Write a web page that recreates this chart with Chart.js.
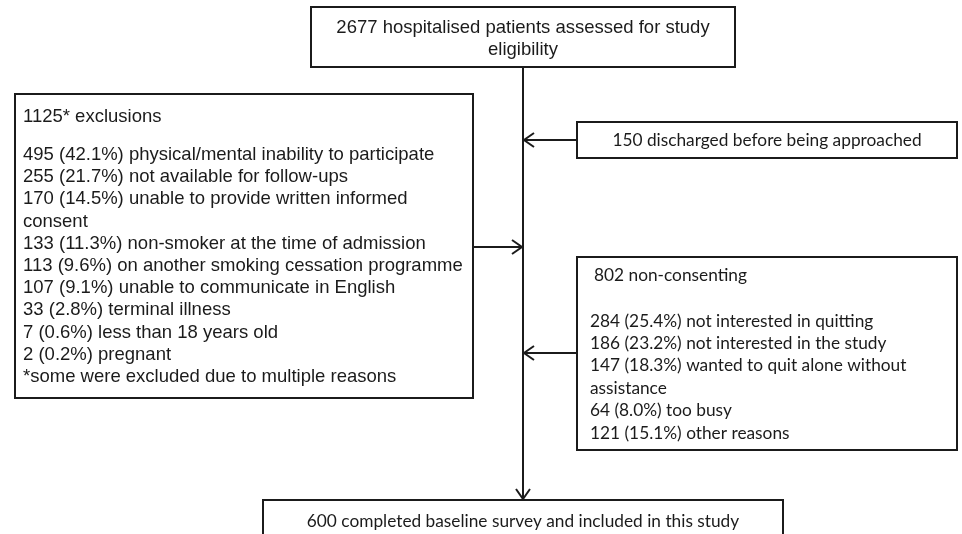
<!DOCTYPE html>
<html>
<head>
<meta charset="utf-8">
<script src="https://cdn.jsdelivr.net/npm/chart.js@4.4.1/dist/chart.umd.min.js"></script>
<style>
  html, body { margin: 0; padding: 0; background: #fff; }
  #wrap { width: 962px; height: 534px; }
</style>
</head>
<body>
<div id="wrap"><canvas id="flow" width="962" height="534"></canvas></div>
<script>
// study flow numbers
const assessed = 2677
const discharged = 150
const included = 600

const exclusionTotal = 1125
const exclusionReasons = [
  'physical/mental inability to participate',
  'not available for follow-ups',
  'unable to provide written informed consent',
  'non-smoker at the time of admission',
  'on another smoking cessation programme',
  'unable to communicate in English',
  'terminal illness',
  'less than 18 years old',
  'pregnant',
]
const exclusionCounts = [495, 255, 170, 133, 113, 107, 33, 7, 2]
const exclusionPcts   = [42.1, 21.7, 14.5, 11.3, 9.6, 9.1, 2.8, 0.6, 0.2]
const exclusionNote = '*some were excluded due to multiple reasons'

const nonConsentTotal = 802
const nonConsentReasons = [
  'not interested in quitting',
  'not interested in the study',
  'wanted to quit alone without assistance',
  'too busy',
  'other reasons',
]
const nonConsentCounts = [284, 186, 147, 64, 121]
const nonConsentPcts   = [25.4, 23.2, 18.3, 8.0, 15.1]

// layout in page units (x: 0..962, y: 0..534 top-down)
const ARIAL = '"Liberation Sans", Arial, sans-serif'
const CALIBRI = 'Lato, Carlito, Calibri, sans-serif'
const INK = '#1b1b1b'

const BOX = {
  top:   { x0: 311, y0: 7,   x1: 735, y1: 67 },
  excl:  { x0: 15,  y0: 94,  x1: 473, y1: 398 },
  disch: { x0: 577, y0: 122, x1: 957, y1: 158 },
  nonc:  { x0: 577, y0: 257, x1: 957, y1: 450 },
  final: { x0: 263, y0: 500, x1: 783, y1: 548 },
}
const SPINE_X = 523

const reasonLine = (n, p, r) => `${n} (${p.toFixed(1)}%) ${r}`

function wrap(ctx, text, maxW) {
  const words = text.split(' ')
  const out = []
  let cur = ''
  for (const w of words) {
    const t = cur ? cur + ' ' + w : w
    if (cur && ctx.measureText(t).width > maxW) { out.push(cur); cur = w }
    else cur = t
  }
  if (cur) out.push(cur)
  return out
}

// connectors drawn as line datasets
function seg(points) {
  return {
    data: points,
    showLine: true,
    borderColor: INK,
    borderWidth: 2,
    pointRadius: 0,
    tension: 0,
  }
}

const flowPlugin = {
  id: 'flow',
  afterDatasetsDraw(chart) {
    const { ctx, scales: { x, y } } = chart
    const px = v => x.getPixelForValue(v)
    const py = v => y.getPixelForValue(v)

    // arrowheads (open chevrons)
    function head(ax, ay, dir) {
      ctx.save()
      ctx.strokeStyle = INK
      ctx.lineWidth = 2
      ctx.beginPath()
      if (dir === 'left') {
        ctx.moveTo(px(ax + 11), py(ay - 7)); ctx.lineTo(px(ax + 1), py(ay)); ctx.lineTo(px(ax + 11), py(ay + 7))
      } else if (dir === 'right') {
        ctx.moveTo(px(ax - 11), py(ay - 7)); ctx.lineTo(px(ax - 1), py(ay)); ctx.lineTo(px(ax - 11), py(ay + 7))
      } else {
        ctx.moveTo(px(ax - 7), py(ay - 11)); ctx.lineTo(px(ax), py(ay - 1)); ctx.lineTo(px(ax + 7), py(ay - 11))
      }
      ctx.stroke()
      ctx.restore()
    }
    head(SPINE_X, 140, 'left')
    head(SPINE_X, 247, 'right')
    head(SPINE_X, 353, 'left')
    head(SPINE_X, BOX.final.y0, 'down')

    function box(b) {
      ctx.save()
      ctx.fillStyle = '#fff'
      ctx.strokeStyle = INK
      ctx.lineWidth = 2
      ctx.fillRect(px(b.x0), py(b.y0), px(b.x1) - px(b.x0), py(b.y1) - py(b.y0))
      ctx.strokeRect(px(b.x0), py(b.y0), px(b.x1) - px(b.x0), py(b.y1) - py(b.y0))
      ctx.restore()
    }
    Object.values(BOX).forEach(box)

    function text(str, tx, ty, font, align) {
      ctx.save()
      ctx.fillStyle = INK
      ctx.font = font
      ctx.textAlign = align || 'left'
      ctx.textBaseline = 'middle'
      ctx.fillText(str, px(tx), py(ty))
      ctx.restore()
    }

    // top box
    const arial = `18.5px ${ARIAL}`
    text(`${assessed} hospitalised patients assessed for study`, SPINE_X, 28, arial, 'center')
    text('eligibility', SPINE_X, 50, arial, 'center')

    // exclusions
    text(`${exclusionTotal}* exclusions`, 23, 117, arial)
    ctx.font = arial
    let yy = 155
    const lh = 22.2
    exclusionReasons.forEach((r, i) => {
      const lines = wrap(ctx, reasonLine(exclusionCounts[i], exclusionPcts[i], r), BOX.excl.x1 - 23 - 2)
      for (const l of lines) { text(l, 23, yy, arial); yy += lh }
    })
    text(exclusionNote, 23, yy, arial)

    // discharged
    const cal = `17.3px ${CALIBRI}`
    text(`${discharged} discharged before being approached`, (BOX.disch.x0 + BOX.disch.x1) / 2, 140, cal, 'center')

    // non-consenting
    text(`${nonConsentTotal} non-consenting`, 594, 275, cal)
    ctx.font = cal
    yy = 321
    nonConsentReasons.forEach((r, i) => {
      const lines = wrap(ctx, reasonLine(nonConsentCounts[i], nonConsentPcts[i], r), 330)
      for (const l of lines) { text(l, 590, yy, cal); yy += 22.4 }
    })

    // final
    text(`${included} completed baseline survey and included in this study`, SPINE_X, 521, cal, 'center')
  },
}

new Chart(document.getElementById('flow'), {
  type: 'scatter',
  data: {
    datasets: [
      seg([{ x: SPINE_X, y: BOX.top.y1 }, { x: SPINE_X, y: BOX.final.y0 - 1 }]),
      seg([{ x: BOX.disch.x0, y: 140 }, { x: SPINE_X, y: 140 }]),
      seg([{ x: BOX.excl.x1, y: 247 }, { x: SPINE_X, y: 247 }]),
      seg([{ x: BOX.nonc.x0, y: 353 }, { x: SPINE_X, y: 353 }]),
    ],
  },
  options: {
    responsive: false,
    animation: false,
    layout: { padding: 0 },
    plugins: { legend: { display: false }, tooltip: { enabled: false } },
    scales: {
      x: { type: 'linear', min: 0, max: 962, display: false },
      y: { type: 'linear', min: 0, max: 534, reverse: true, display: false },
    },
  },
  plugins: [flowPlugin],
})
</script>
</body>
</html>
